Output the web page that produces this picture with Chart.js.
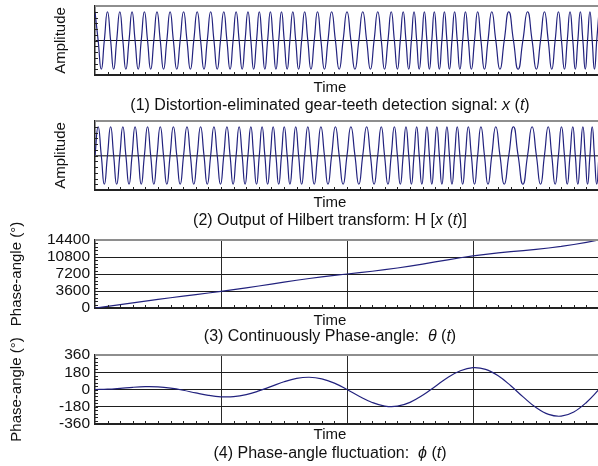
<!DOCTYPE html>
<html><head><meta charset="utf-8">
<script src="https://cdn.jsdelivr.net/npm/chart.js@4.4.1/dist/chart.umd.min.js"></script>
<style>
html,body{margin:0;padding:0;background:#fff;width:598px;height:466px;overflow:hidden;position:relative;}
canvas{position:absolute;left:0;}
.lbl{position:absolute;left:330px;font-family:"Liberation Sans",Arial,sans-serif;color:#111;white-space:nowrap;transform:translateX(-50%);}
.t{font-size:15px;line-height:15px;}
.c{font-size:16px;line-height:16px;}
</style></head><body>
<canvas id="c1" width="610" height="85" style="top:0px"></canvas>
<canvas id="c2" width="610" height="85" style="top:115px"></canvas>
<canvas id="c3" width="610" height="115" style="top:218px"></canvas>
<canvas id="c4" width="610" height="116" style="top:333px"></canvas>
<div class="lbl t" style="top:79px">Time</div>
<div class="lbl c" style="top:96.5px">(1) Distortion-eliminated gear-teeth detection signal: <i>x</i> (<i>t</i>)</div>
<div class="lbl t" style="top:194px">Time</div>
<div class="lbl c" style="top:211.5px">(2) Output of Hilbert transform: H [<i>x</i> (<i>t</i>)]</div>
<div class="lbl t" style="top:312.3px">Time</div>
<div class="lbl c" style="top:328.2px">(3) Continuously Phase-angle:&nbsp; <i>θ</i> (<i>t</i>)</div>
<div class="lbl t" style="top:426.3px">Time</div>
<div class="lbl c" style="top:444.8px">(4) Phase-angle fluctuation:&nbsp; <i>ϕ</i> (<i>t</i>)</div>
<script>
// ---------- data ----------
// time instants (0..40 time units) where the phase passes each multiple of 90°
const quarterTimes = [
0.00, 0.25, 0.50, 0.74, 0.99, 1.24, 1.48, 1.72, 1.97, 2.21,
2.45, 2.70, 2.94, 3.18, 3.43, 3.67, 3.92, 4.17, 4.42, 4.67,
4.92, 5.18, 5.44, 5.70, 5.96, 6.22, 6.49, 6.76, 7.03, 7.30,
7.57, 7.84, 8.11, 8.38, 8.65, 8.91, 9.18, 9.44, 9.70, 9.96,
10.22, 10.47, 10.72, 10.96, 11.20, 11.44, 11.68, 11.91, 12.14, 12.37,
12.59, 12.82, 13.04, 13.26, 13.48, 13.70, 13.92, 14.14, 14.36, 14.58,
14.80, 15.02, 15.25, 15.47, 15.70, 15.93, 16.16, 16.40, 16.64, 16.89,
17.14, 17.40, 17.66, 17.93, 18.21, 18.49, 18.78, 19.08, 19.38, 19.69,
20.00, 20.31, 20.63, 20.94, 21.25, 21.56, 21.86, 22.15, 22.44, 22.72,
22.98, 23.25, 23.51, 23.76, 24.00, 24.23, 24.46, 24.68, 24.90, 25.11,
25.32, 25.53, 25.73, 25.94, 26.14, 26.34, 26.54, 26.73, 26.93, 27.13,
27.33, 27.53, 27.73, 27.93, 28.13, 28.33, 28.54, 28.75, 28.96, 29.18,
29.40, 29.63, 29.87, 30.12, 30.37, 30.63, 30.91, 31.19, 31.49, 31.81,
32.14, 32.48, 32.84, 33.21, 33.58, 33.96, 34.33, 34.69, 35.03, 35.36,
35.67, 35.97, 36.25, 36.52, 36.78, 37.02, 37.26, 37.48, 37.70, 37.92,
38.12, 38.32, 38.52, 38.72, 38.91, 39.09, 39.28, 39.46, 39.64, 39.82,
40.00];
// (1) detection signal x(t), normalised amplitude, at those instants
const xSignal = [
1,0,-1,0,1,0,-1,0,1,0,  -1,0,1,0,-1,0,1,0,-1,0,
1,0,-1,0,1,0,-1,0,1,0,  -1,0,1,0,-1,0,1,0,-1,0,
1,0,-1,0,1,0,-1,0,1,0,  -1,0,1,0,-1,0,1,0,-1,0,
1,0,-1,0,1,0,-1,0,1,0,  -1,0,1,0,-1,0,1,0,-1,0,
1,0,-1,0,1,0,-1,0,1,0,  -1,0,1,0,-1,0,1,0,-1,0,
1,0,-1,0,1,0,-1,0,1,0,  -1,0,1,0,-1,0,1,0,-1,0,
1,0,-1,0,1,0,-1,0,1,0,  -1,0,1,0,-1,0,1,0,-1,0,
1,0,-1,0,1,0,-1,0,1,0,  -1,0,1,0,-1,0,1,0,-1,0,
1];
// (2) Hilbert transform H[x(t)] at the same instants
const hSignal = [
0,1,0,-1,0,1,0,-1,0,1,  0,-1,0,1,0,-1,0,1,0,-1,
0,1,0,-1,0,1,0,-1,0,1,  0,-1,0,1,0,-1,0,1,0,-1,
0,1,0,-1,0,1,0,-1,0,1,  0,-1,0,1,0,-1,0,1,0,-1,
0,1,0,-1,0,1,0,-1,0,1,  0,-1,0,1,0,-1,0,1,0,-1,
0,1,0,-1,0,1,0,-1,0,1,  0,-1,0,1,0,-1,0,1,0,-1,
0,1,0,-1,0,1,0,-1,0,1,  0,-1,0,1,0,-1,0,1,0,-1,
0,1,0,-1,0,1,0,-1,0,1,  0,-1,0,1,0,-1,0,1,0,-1,
0,1,0,-1,0,1,0,-1,0,1,  0,-1,0,1,0,-1,0,1,0,-1,
0];
// sample times for the phase curves
const sampleTimes = [0,1,2,3,4,5,6,7,8,9,10,11,12,13,14,15,16,17,18,19,20,
21,22,23,24,25,26,27,28,29,30,31,32,33,34,35,36,37,38,39,40];
// (3) continuous phase angle θ(t), degrees
const thetaValues = [0,363,732,1103,1469,1827,2174,2512,2844,3179,
3524,3886,4266,4665,5073,5481,5876,6248,6591,6906,
7200,7488,7785,8107,8467,8866,9299,9752,10205,10636,
11028,11370,11663,11919,12160,12412,12700,13042,13446,13905,14400];
// (4) phase-angle fluctuation φ(t), degrees
const phiValues = [0,3,12,23,29,27,14,-8,-36,-61,
-76,-75,-54,-15,33,81,116,128,111,66,
0,-73,-135,-173,-174,-134,-61,32,125,196,
228,210,143,39,-80,-188,-260,-278,-234,-135,0];
// axis ticks
const timeRange = [0, 40];
const timeMajor = [0, 10, 20, 30, 40];
const amplitudeRange = [-1.2, 1.2];
const thetaTicks = [0, 3600, 7200, 10800, 14400];
const phiTicks = [-360, -180, 0, 180, 360];

// ---------- drawing ----------
const FONT = '"Liberation Sans", Arial, sans-serif';
Chart.defaults.font.family = FONT;
const LINE = '#22227e';
const TRANSPARENT = 'rgba(0,0,0,0)';

const frame = {
  id: 'frame',
  afterDraw(chart, args, o) {
    const {ctx, chartArea: a, scales: {x, y}} = chart;
    ctx.save();
    ctx.strokeStyle = '#222';
    ctx.lineWidth = 1;
    ctx.beginPath();
    for (let v = x.min + o.xStep; v < x.max - 1e-9; v += o.xStep) {
      const p = Math.round(x.getPixelForValue(v)) + 0.5;
      ctx.moveTo(p, a.bottom); ctx.lineTo(p, a.bottom - o.len);
    }
    for (let v = y.min + o.yStep; v < y.max - 1e-9; v += o.yStep) {
      const p = Math.round(y.getPixelForValue(v)) + 0.5;
      ctx.moveTo(a.left, p); ctx.lineTo(a.left + o.len, p);
    }
    ctx.stroke();
    ctx.strokeStyle = '#8e8e8e';
    ctx.lineWidth = 2;
    ctx.beginPath();
    ctx.moveTo(a.left, a.top); ctx.lineTo(a.right + 2, a.top);
    ctx.stroke();
    ctx.restore();
  }
};

function xScale(withGrid) {
  return {
    type: 'linear', min: timeRange[0], max: timeRange[1],
    afterBuildTicks: s => { s.ticks = timeMajor.map(v => ({value: v})); },
    ticks: {display: false},
    grid: {
      display: withGrid, drawTicks: false, lineWidth: 1,
      color: c => (c.tick && c.tick.value > timeRange[0] && c.tick.value < timeRange[1]) ? '#2a2a2a' : TRANSPARENT
    },
    border: {display: true, color: '#222', width: 2},
    afterFit: s => { s.height = 5; }
  };
}

function makeChart(id, times, values, yCfg, pad, frameOpts, tension) {
  return new Chart(document.getElementById(id), {
    type: 'line',
    data: {datasets: [{
      data: times.map((t, i) => ({x: t, y: values[i]})),
      borderColor: LINE, borderWidth: 1.2, pointRadius: 0, tension: tension, fill: false
    }]},
    options: {
      responsive: false, animation: false, devicePixelRatio: 1,
      layout: {padding: pad},
      plugins: {legend: {display: false}, tooltip: {enabled: false}, frame: frameOpts},
      scales: {x: yCfg.x, y: yCfg.y}
    },
    plugins: [frame]
  });
}

function ampY(zeroColor, zeroWidth) {
  return {
    min: amplitudeRange[0], max: amplitudeRange[1],
    afterBuildTicks: s => { s.ticks = [{value: amplitudeRange[0]}, {value: 0}, {value: amplitudeRange[1]}]; },
    ticks: {display: false},
    grid: {drawTicks: false, lineWidth: zeroWidth, color: c => (c.tick && c.tick.value === 0) ? zeroColor : TRANSPARENT},
    border: {display: true, color: '#222', width: 1.5},
    title: {display: true, text: 'Amplitude', color: '#111', font: {size: 15}, padding: {top: 4, bottom: 0}},
    afterFit: s => { s.width = 47; }
  };
}

function phaseY(tickVals) {
  const lo = tickVals[0], hi = tickVals[tickVals.length - 1];
  return {
    min: lo, max: hi,
    afterBuildTicks: s => { s.ticks = tickVals.map(v => ({value: v})); },
    ticks: {display: true, color: '#111', font: {size: 15.5}, padding: 5, autoSkip: false,
            callback: v => String(v)},
    grid: {drawTicks: false, lineWidth: 1, color: c => (c.tick && c.tick.value > lo && c.tick.value < hi) ? '#1e1e1e' : TRANSPARENT},
    border: {display: true, color: '#222', width: 1.5},
    title: {display: true, text: 'Phase-angle (°)', color: '#111', font: {size: 15}, padding: {top: 8, bottom: 0}},
    afterFit: s => { s.width = 95; }
  };
}

makeChart('c1', quarterTimes, xSignal, {x: xScale(false), y: ampY('#111', 1)},
  {left: 48, right: 11, top: 6, bottom: 5}, {xStep: 1, yStep: 0.2, len: 3}, 0.55);
makeChart('c2', quarterTimes, hSignal, {x: xScale(false), y: ampY('#555', 1.5)},
  {left: 48, right: 11, top: 6, bottom: 5}, {xStep: 1, yStep: 0.2, len: 3}, 0.55);
makeChart('c3', sampleTimes, thetaValues, {x: xScale(true), y: phaseY(thetaTicks)},
  {left: 0, right: 11, top: 22, bottom: 20}, {xStep: 1, yStep: 720, len: 3}, 0);
makeChart('c4', sampleTimes, phiValues, {x: xScale(true), y: phaseY(phiTicks)},
  {left: 0, right: 11, top: 22, bottom: 20}, {xStep: 1, yStep: 36, len: 3}, 0.4);
</script>
</body></html>
